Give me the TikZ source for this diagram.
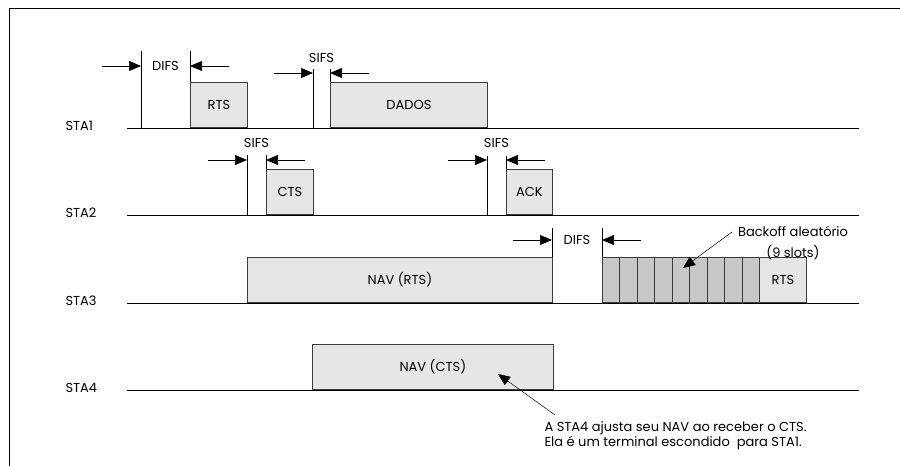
\documentclass[tikz,border=0pt]{standalone}
\usepackage{fontspec}
\setmainfont{Poppins}
\usepackage{tikz}
\usetikzlibrary{arrows.meta,positioning}
\definecolor{pktgray}{RGB}{230,230,230}
\definecolor{slotgray}{RGB}{200,200,200}
\definecolor{edgegray}{RGB}{60,60,60}

\begin{document}
\begin{tikzpicture}[x=1pt, y=-1pt,
    every node/.style={font=\fontsize{13}{15}\selectfont},
    timeline/.style={draw, line width=0.8pt},
    marker/.style={draw, line width=0.7pt},
    pkt/.style={draw=edgegray, fill=pktgray, line width=0.8pt, anchor=south west,
        inner sep=0pt, minimum height=45pt},
    slot/.style={pkt, fill=slotgray, minimum width=17.44pt},
    gap/.style={draw, line width=0.7pt, -{Triangle[length=12pt, width=10pt]}},
    pointer/.style={draw, line width=0.5pt, -{Triangle[length=12pt, width=10pt]}}
]
\useasboundingbox (0,0) rectangle (900,466);
% moldura
\draw[line width=1pt] (9,466) -- (9,8) -- (900,8);

% estacoes
\foreach \n/\y in {1/128, 2/215, 3/303, 4/390} {
  \node[anchor=west] (sta\n) at (62,\y-2) {STA\n};
  \coordinate (ini\n) at (127,\y);
  \coordinate (fim\n) at (859,\y);
  \draw[timeline] (ini\n) -- (fim\n);
}

% intervalos DIFS / SIFS
\foreach \id/\xa/\xb/\top/\base/\ay/\lbl/\ly in {
    difsA/141/190/51/128/66/DIFS/66,
    sifsA/313/330/69/128/73/SIFS/58,
    sifsB/247/266/155/215/160/SIFS/143,
    sifsC/487/506/156/215/160/SIFS/143,
    difsB/552/602/228/303/240/DIFS/240} {
  \coordinate (\id-lt) at (\xa,\top);
  \coordinate (\id-lb) at (\xa,\base);
  \coordinate (\id-rt) at (\xb,\top);
  \coordinate (\id-rb) at (\xb,\base);
  \coordinate (\id-la) at (\xa-39,\ay);
  \coordinate (\id-lh) at (\xa,\ay);
  \coordinate (\id-ra) at (\xb+39,\ay);
  \coordinate (\id-rh) at (\xb,\ay);
  \draw[marker] (\id-lt) -- (\id-lb);
  \draw[marker] (\id-rt) -- (\id-rb);
  \draw[gap] (\id-la) -- (\id-lh);
  \draw[gap] (\id-ra) -- (\id-rh);
  \node (\id-txt) at ({(\xa+\xb)/2},\ly) {\lbl};
}

% quadros
\node[pkt, minimum width=57pt] (rts1) at (190,128) {RTS};
\node[pkt, minimum width=157pt] (dados) at (330,128) {DADOS};
\node[pkt, minimum width=47pt] (cts) at (266,215) {CTS};
\node[pkt, minimum width=46pt] (ack) at (506,215) {ACK};
\node[pkt, minimum width=305pt] (navrts) at (247,303) {NAV (RTS)};
\foreach \i in {0,...,8}
  \node[slot] (slot\i) at (602+17.44*\i,303) {};
\node[pkt, minimum width=47pt] (rts3) at (759,303) {RTS};
\node[pkt, minimum width=241pt] (navcts) at (312,390) {NAV (CTS)};

% backoff
\node[align=center, font=\fontsize{13}{21}\selectfont] (bkf) at (793,243)
  {Backoff aleatório\\(9 slots)};
\coordinate (bkf-tail) at (732,232);
\coordinate (bkf-tip) at (683,268);
\draw[pointer] (bkf-tail) -- (bkf-tip);

% nota
\node[align=left, anchor=west] (nota) at (541,436)
  {A STA4 ajusta seu NAV ao receber o CTS.\\Ela é um terminal escondido\ \ para STA1.};
\coordinate (nota-tail) at (555,415);
\coordinate (nota-tip) at (498,374);
\draw[pointer] (nota-tail) -- (nota-tip);
\end{tikzpicture}
\end{document}
